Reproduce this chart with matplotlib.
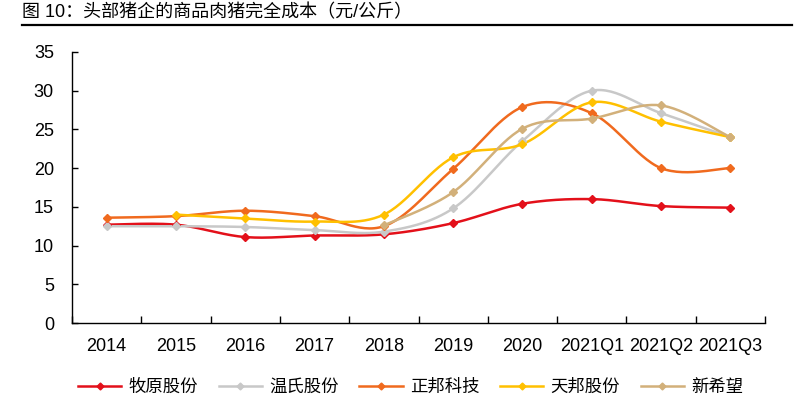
import numpy as np
import matplotlib
matplotlib.use("Agg")
import matplotlib.pyplot as plt
from matplotlib.lines import Line2D

plt.rcParams['font.family'] = ['Liberation Sans', 'Noto Sans CJK SC', 'DejaVu Sans']

categories = ["2014", "2015", "2016", "2017", "2018", "2019", "2020", "2021Q1", "2021Q2", "2021Q3"]
muyuan   = [12.7, 12.7, 11.1, 11.3, 11.45, 12.9, 15.4, 16.0, 15.1, 14.9]
wens     = [12.5, 12.5, 12.4, 12.0, 11.8, 14.8, 23.5, 30.0, 27.1, 24.0]
zhengbang = [13.6, 13.8, 14.5, 13.8, 12.5, 19.9, 27.9, 27.1, 20.0, 20.0]
tianbang = [None, 14.0, 13.5, 13.1, 14.0, 21.4, 23.1, 28.5, 26.0, 24.0]
xinxiwang = [None, None, None, None, 12.6, 16.9, 25.1, 26.4, 28.1, 24.0]

series_names = ["牧原股份", "温氏股份", "正邦科技", "天邦股份", "新希望"]
series_vals = [muyuan, wens, zhengbang, tianbang, xinxiwang]
colors = ["#E3101A", "#C8C8C8", "#F06A1E", "#FFC000", "#D2B07A"]
title = "图 10：头部猪企的商品肉猪完全成本（元/公斤）"


def smooth(xs, ys, n=30):
    # Excel-like smoothing: Catmull-Rom style Bezier between data points
    xs = np.asarray(xs, float)
    ys = np.asarray(ys, float)
    px, py = [], []
    m = len(xs)
    for i in range(m - 1):
        x0, y0 = (xs[i - 1], ys[i - 1]) if i > 0 else (xs[i], ys[i])
        x1, y1 = xs[i], ys[i]
        x2, y2 = xs[i + 1], ys[i + 1]
        x3, y3 = (xs[i + 2], ys[i + 2]) if i + 2 < m else (xs[i + 1], ys[i + 1])
        c1x, c1y = x1 + (x2 - x0) / 6, y1 + (y2 - y0) / 6
        c2x, c2y = x2 - (x3 - x1) / 6, y2 - (y3 - y1) / 6
        t = np.linspace(0, 1, n)
        bx = (1 - t) ** 3 * x1 + 3 * (1 - t) ** 2 * t * c1x + 3 * (1 - t) * t ** 2 * c2x + t ** 3 * x2
        by = (1 - t) ** 3 * y1 + 3 * (1 - t) ** 2 * t * c1y + 3 * (1 - t) * t ** 2 * c2y + t ** 3 * y2
        px.extend(bx)
        py.extend(by)
    return px, py


fig = plt.figure(figsize=(8, 4.16), dpi=100)
ax = fig.add_axes([72 / 800, 1 - 323 / 416, (765 - 72) / 800, (323 - 52) / 416])

x = np.arange(len(categories))
handles = []
for name, vals, c in zip(series_names, series_vals, colors):
    xs = [xi for xi, v in zip(x, vals) if v is not None]
    ys = [v for v in vals if v is not None]
    sx, sy = smooth(xs, ys)
    ax.plot(sx, sy, color=c, lw=1.8, solid_capstyle='round', zorder=3)
    ax.plot(xs, ys, ls='none', marker='D', ms=4, color=c, zorder=4)
    handles.append(Line2D([0], [0], color=c, lw=1.8, marker='D', ms=3.5, label=name))

ax.set_xlim(-0.5, len(categories) - 0.5)
ax.set_ylim(0, 35)
ax.set_yticks(np.arange(0, 36, 5))
ax.set_xticks(x)
ax.set_xticklabels(categories)
ax.set_xticks(np.arange(-0.5, len(categories), 1), minor=True)
ax.tick_params(axis='x', which='major', length=0, pad=11, labelsize=13)
ax.tick_params(axis='x', which='minor', direction='in', length=5, width=1)
ax.tick_params(axis='y', direction='in', length=4, width=1, labelsize=13, pad=13)
for s in ['top', 'right']:
    ax.spines[s].set_visible(False)
for s in ['left', 'bottom']:
    ax.spines[s].set_linewidth(1.0)
    ax.spines[s].set_color('#000000')

fig.text(22 / 800, 1 - 13 / 416, title, fontsize=13, va='center', ha='left')
fig.add_artist(Line2D([22 / 800, 792 / 800], [1 - 25 / 416, 1 - 25 / 416], color='black', lw=1.6))

fig.legend(handles=handles, loc='center left', bbox_to_anchor=(78 / 800, 1 - 387 / 416), ncol=5,
           frameon=False, fontsize=12.5, handlelength=2.5, columnspacing=1.2, handletextpad=0.4,
           borderaxespad=0, borderpad=0)

fig.savefig("out.png", dpi=100)
